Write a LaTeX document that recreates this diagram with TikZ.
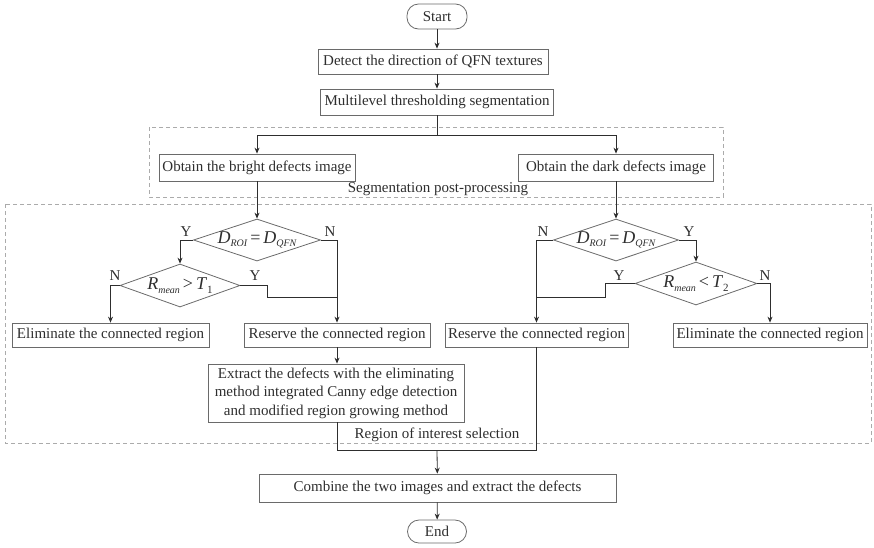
\documentclass[tikz,border=0pt]{standalone}
\usepackage{fontspec}
\setmainfont{Liberation Serif}
\usetikzlibrary{arrows.meta,shapes.geometric}
\definecolor{ink}{HTML}{2E2E2E}
\definecolor{edge}{HTML}{6A6A6A}
\definecolor{frame}{HTML}{ABABAB}
\newcommand\lowsub[1]{\raisebox{-0.45ex}{\fontsize{10}{10}\selectfont\itshape #1}}
\newcommand\lowsubup[1]{\raisebox{-0.45ex}{\fontsize{11}{11}\selectfont #1}}
\tikzset{
  base/.style={font=\fontsize{15}{18.5}\selectfont, text=ink, inner sep=0pt},
  procbox/.style={base, draw=edge, line width=0.8pt, rectangle, align=center},
  term/.style={base, draw=edge, line width=0.8pt, rounded corners=11.5pt},
  decision/.style={draw=edge, line width=0.8pt, diamond, inner sep=0pt},
  formula/.style={font=\fontsize{18}{18}\selectfont, text=ink, inner sep=0pt},
  yn/.style={base},
  groupframe/.style={draw=frame, line width=0.8pt, dash pattern=on 4pt off 3pt},
  grouplabel/.style={base},
  link/.style={draw=ink, line width=0.8pt},
  arr/.style={link, -{Stealth[length=6pt,width=5pt]}}
}
\begin{document}
\begin{tikzpicture}[x=1pt,y=-1pt]
\useasboundingbox (0,0) rectangle (874,547);

% group frames
\draw[groupframe] (149,127) rectangle (723,197);
\node[grouplabel] (lblseg) at (438,189) {Segmentation post-processing};
\draw[groupframe] (5,204) rectangle (871,443);
\node[grouplabel] (lblroi) at (437,435) {Region of interest selection};

% main chain
\node[term, minimum width=60pt, minimum height=25pt] (start) at (437,16.5) {Start};
\node[procbox, minimum width=230pt, minimum height=25pt] (detect) at (433,61.5) {Detect the direction of QFN textures};
\node[procbox, minimum width=233pt, minimum height=26pt] (multi) at (437,102) {Multilevel thresholding segmentation};

\node[procbox, minimum width=196pt, minimum height=27pt] (bright) at (257,167.5) {Obtain the bright defects image};
\node[procbox, minimum width=195pt, minimum height=27pt] (dark) at (616,167.5) {Obtain the dark defects image};

% decisions, bright branch
\node[decision, minimum width=127pt, minimum height=42pt,
      label={[formula]center:\textit{D}\lowsub{ROI}\,=\,\textit{D}\lowsub{QFN}}] (d1) at (257,240) {};
\node[decision, minimum width=120pt, minimum height=43pt,
      label={[formula]center:\textit{R}\lowsub{mean}\,>\,\textit{T}\lowsubup{1}}] (d2) at (180,285.5) {};
% decisions, dark branch
\node[decision, minimum width=125pt, minimum height=42pt,
      label={[formula]center:\textit{D}\lowsub{ROI}\,=\,\textit{D}\lowsub{QFN}}] (d3) at (616,240) {};
\node[decision, minimum width=122pt, minimum height=43pt,
      label={[formula]center:\textit{R}\lowsub{mean}\,<\,\textit{T}\lowsubup{2}}] (d4) at (696,283.5) {};

% outcome boxes
\node[procbox, minimum width=197pt, minimum height=24pt] (elimL) at (110.5,335) {Eliminate the connected region};
\node[procbox, minimum width=186pt, minimum height=24pt] (resL) at (337,335) {Reserve the connected region};
\node[procbox, minimum width=183pt, minimum height=24pt] (resR) at (536.5,335) {Reserve the connected region};
\node[procbox, minimum width=194pt, minimum height=24pt] (elimR) at (770,335) {Eliminate the connected region};

\node[procbox, minimum width=256pt, minimum height=58pt] (extract) at (336,393)
  {Extract the defects with the eliminating\\method integrated Canny edge detection\\and modified region growing method};
\node[procbox, minimum width=357pt, minimum height=28pt] (combine) at (437.5,488) {Combine the two images and extract the defects};
\node[term, minimum width=59pt, minimum height=23pt] (finish) at (437,531.5) {End};

% Y / N labels
\node[yn] (y1) at (186,232) {Y};
\node[yn] (n1) at (330,232) {N};
\node[yn] (n2) at (115,276) {N};
\node[yn] (y2) at (255,276) {Y};
\node[yn] (n3) at (543,232) {N};
\node[yn] (y3) at (689,232) {Y};
\node[yn] (y4) at (619,276) {Y};
\node[yn] (n4) at (765,276) {N};

% connectors
\draw[arr] (start) -- (detect.north -| start);
\draw[arr] (detect.south -| start) -- (multi);
\draw[link] (multi.south) -- ++(0,20) coordinate (fork);
\draw[arr] (fork) -| (bright.north);
\draw[arr] (fork) -| (dark.north);

\draw[arr] (bright) -- (d1);
\draw[arr] (d1.west) -| (d2.north);
\draw[arr] (d1.east) -| (resL.north);
\draw[arr] (d2.west) -| (elimL.north);
\coordinate (mergeL) at (resL.north |- 0,297);
\draw[link] (d2.east) -- ++(27,0) |- (mergeL);

\draw[arr] (dark) -- (d3);
\draw[arr] (d3.west) -| (resR.north);
\draw[arr] (d3.east) -| (d4.north);
\draw[arr] (d4.east) -| (elimR.north);
\coordinate (mergeR) at (resR.north |- 0,297);
\draw[link] (d4.west) -- ++(-29,0) |- (mergeR);

\draw[arr] (resL) -- (extract.north -| resL);
\coordinate (join) at (437,450);
\draw[link] (extract.south -| resL) |- (join) -| (resR.south);
\draw[arr] (join) -- (combine);
\draw[arr] (combine) -- (finish);
\end{tikzpicture}
\end{document}
